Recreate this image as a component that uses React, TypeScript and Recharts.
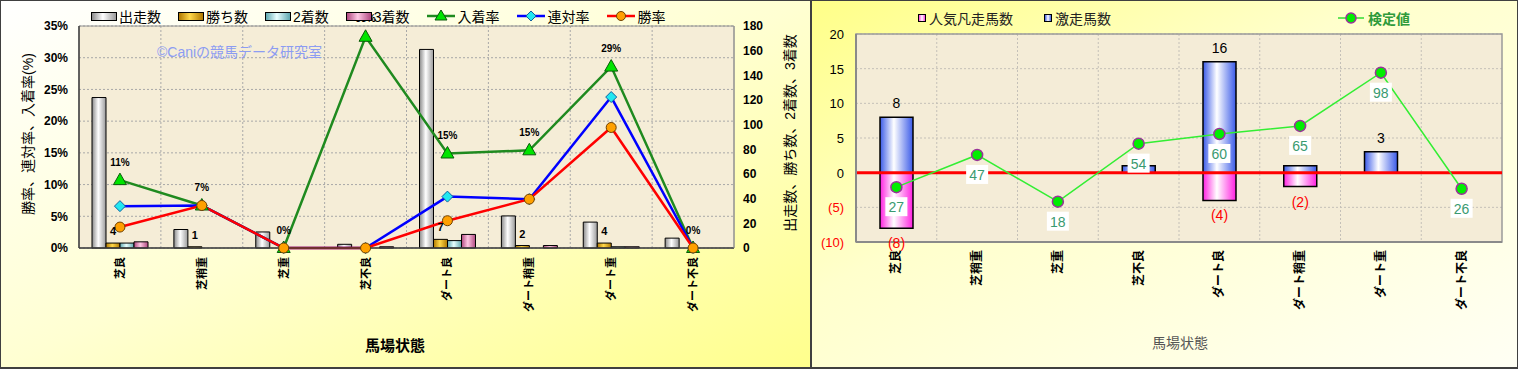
import {
  Bar,
  CartesianGrid,
  ComposedChart,
  Label,
  LabelList,
  Legend,
  Line,
  ReferenceArea,
  ReferenceLine,
  XAxis,
  YAxis,
} from "recharts";

const FONT = "'Liberation Sans','Noto Sans CJK JP',sans-serif";

// 馬場状態
const categories = ["芝良", "芝稍重", "芝重", "芝不良", "ダート良", "ダート稍重", "ダート重", "ダート不良"];

// left chart: counts (right axis)
const runners = [122, 15, 13, 3, 161, 26, 21, 8];
const wins = [4, 1, 0, 0, 7, 2, 4, 0];
const seconds = [4, 0, 0, 0, 6, 0, 1, 0];
const thirds = [5, 0, 0, 1, 11, 2, 1, 0];

// left chart: rates in % (left axis)
const showRate = [10.7, 6.7, 0, 33.3, 14.9, 15.4, 28.6, 0];
const placeRate = [6.6, 6.7, 0, 0, 8.1, 7.7, 23.8, 0];
const winRate = [3.3, 6.7, 0, 0, 4.3, 7.7, 19.0, 0];

const pctTicks = [0, 5, 10, 15, 20, 25, 30, 35];
const countTicks = [0, 20, 40, 60, 80, 100, 120, 140, 160, 180];

// right chart
const popularFlops = [-8, 0, 0, 0, -4, -2, 0, 0];
const surges = [8, 0, 0, 1, 16, 1, 3, 0];
const testValues = [27, 47, 18, 54, 60, 65, 98, 26];
const diffTicks = [-10, -5, 0, 5, 10, 15, 20];

const leftData = categories.map((name, i) => ({
  name,
  runners: runners[i],
  wins: wins[i],
  seconds: seconds[i],
  thirds: thirds[i],
  show: showRate[i],
  place: placeRate[i],
  win: winRate[i],
}));

const rightData = categories.map((name, i) => ({
  name,
  flop: popularFlops[i],
  surge: surges[i],
  test: testValues[i],
}));

const boundaries = (count: number) => ({ offset }: any) =>
  Array.from({ length: count - 1 }, (_, i) => offset.left + ((i + 1) * offset.width) / count);

function VerticalTick({ x, y, payload, size }: any) {
  return (
    <text
      x={x}
      y={y}
      transform={`rotate(-90, ${x}, ${y})`}
      textAnchor="end"
      dominantBaseline="central"
      fontSize={size}
      fontWeight="bold"
      fill="#000"
      fontFamily={FONT}
    >
      {payload.value}
    </text>
  );
}

function DiffTick({ x, y, payload }: any) {
  const v = payload.value;
  return (
    <text x={x} y={y} dy={5} textAnchor="end" fontSize={13} fill={v < 0 ? "#ff0000" : "#000"} fontFamily={FONT}>
      {v < 0 ? `(${-v})` : v}
    </text>
  );
}

function TriangleDot(p: any) {
  const { cx, cy, index } = p;
  if (cx == null) return null;
  return (
    <polygon
      key={`t${index}`}
      points={`${cx},${cy - 7} ${cx - 6.5},${cy + 4.5} ${cx + 6.5},${cy + 4.5}`}
      fill="#00e400"
      stroke="#0a5a0a"
      strokeWidth={1}
    />
  );
}

function DiamondDot(p: any) {
  const { cx, cy, index } = p;
  if (cx == null) return null;
  return (
    <polygon
      key={`d${index}`}
      points={`${cx},${cy - 5.5} ${cx + 5.5},${cy} ${cx},${cy + 5.5} ${cx - 5.5},${cy}`}
      fill="#22e8f0"
      stroke="#1060a0"
      strokeWidth={1}
    />
  );
}

function CircleDot(p: any) {
  const { cx, cy, index } = p;
  if (cx == null) return null;
  return <circle key={`c${index}`} cx={cx} cy={cy} r={5} fill="#ffa000" stroke="#704000" strokeWidth={1} />;
}

function TestDot(p: any) {
  const { cx, cy, index } = p;
  if (cx == null) return null;
  return <circle key={`g${index}`} cx={cx} cy={cy} r={5.5} fill="#00ee00" stroke="#993399" strokeWidth={1.5} />;
}

const leftLegendItems = [
  { label: "出走数", bar: "linear-gradient(to right,#8a8a8a,#ffffff 45%,#9a9a9a)" },
  { label: "勝ち数", bar: "linear-gradient(to right,#b07800,#ffd84a 45%,#b07800)" },
  { label: "2着数", bar: "linear-gradient(to right,#5fa8b0,#e8ffff 45%,#5fa8b0)" },
  { label: "3着数", bar: "linear-gradient(to right,#b04880,#ffc8e4 45%,#b04880)" },
  { label: "入着率", line: "#1f8a1f", dot: "tri" },
  { label: "連対率", line: "#0000ff", dot: "dia" },
  { label: "勝率", line: "#ff0000", dot: "cir" },
];

function LeftLegend() {
  return (
    <div style={{ display: "flex", alignItems: "center", fontFamily: FONT, fontSize: 14, color: "#000" }}>
      {leftLegendItems.map((it) => (
        <div key={it.label} style={{ display: "flex", alignItems: "center", marginRight: 17 }}>
          {it.bar ? (
            <span
              style={{
                display: "inline-block",
                width: 24,
                height: 7,
                background: it.bar,
                border: "1px solid #000",
                marginRight: 2,
              }}
            />
          ) : (
            <svg width={28} height={14} style={{ marginRight: 3 }}>
              <line x1={0} y1={7} x2={28} y2={7} stroke={it.line} strokeWidth={2.5} />
              {it.dot === "tri" && <polygon points="14,1 8,11 20,11" fill="#00e400" stroke="#0a5a0a" />}
              {it.dot === "dia" && <polygon points="14,2 19,7 14,12 9,7" fill="#22e8f0" stroke="#1060a0" />}
              {it.dot === "cir" && <circle cx={14} cy={7} r={4.5} fill="#ffa000" stroke="#704000" />}
            </svg>
          )}
          <span>{it.label}</span>
        </div>
      ))}
    </div>
  );
}

function RightLegend() {
  const sq = (bg: string) => (
    <span
      style={{ display: "inline-block", width: 6, height: 6, background: bg, border: "1px solid #000", marginRight: 3 }}
    />
  );
  return (
    <div style={{ position: "relative", width: 620, height: 20, fontFamily: FONT, fontSize: 14, color: "#222" }}>
      <div style={{ position: "absolute", left: 0, top: 0, display: "flex", alignItems: "center" }}>
        {sq("linear-gradient(to right,#ff40e0,#fff,#ff40e0)")}
        <span>人気凡走馬数</span>
      </div>
      <div style={{ position: "absolute", left: 126, top: 0, display: "flex", alignItems: "center" }}>
        {sq("linear-gradient(to right,#4060e8,#fff,#4060e8)")}
        <span>激走馬数</span>
      </div>
      <div style={{ position: "absolute", left: 420, top: 0, display: "flex", alignItems: "center" }}>
        <svg width={26} height={14} style={{ marginRight: 4 }}>
          <line x1={0} y1={7} x2={26} y2={7} stroke="#33dd33" strokeWidth={1.5} />
          <circle cx={13} cy={7} r={5} fill="#00ee00" stroke="#993399" strokeWidth={1.5} />
        </svg>
        <span style={{ color: "#2e9a3a", fontWeight: "bold" }}>検定値</span>
      </div>
    </div>
  );
}

function RotTitle({ x, y, text, size }: { x: number; y: number; text: string; size: number }) {
  return (
    <text
      x={x}
      y={y}
      transform={`rotate(-90, ${x}, ${y})`}
      textAnchor="middle"
      dominantBaseline="central"
      fontSize={size}
      fill="#000"
      fontFamily={FONT}
    >
      {text}
    </text>
  );
}

function LeftChart() {
  return (
    <ComposedChart
      width={810}
      height={368}
      data={leftData}
      margin={{ top: 26, right: 0, bottom: 0, left: 0 }}
      barGap={0}
      barCategoryGap={12}
    >
      <defs>
        <linearGradient id="gRun" x1="0" y1="0" x2="1" y2="0">
          <stop offset="0%" stopColor="#8a8a8a" />
          <stop offset="45%" stopColor="#ffffff" />
          <stop offset="100%" stopColor="#9a9a9a" />
        </linearGradient>
        <linearGradient id="gWin" x1="0" y1="0" x2="1" y2="0">
          <stop offset="0%" stopColor="#b07800" />
          <stop offset="45%" stopColor="#ffd84a" />
          <stop offset="100%" stopColor="#b07800" />
        </linearGradient>
        <linearGradient id="gSec" x1="0" y1="0" x2="1" y2="0">
          <stop offset="0%" stopColor="#5fa8b0" />
          <stop offset="45%" stopColor="#e8ffff" />
          <stop offset="100%" stopColor="#5fa8b0" />
        </linearGradient>
        <linearGradient id="gThi" x1="0" y1="0" x2="1" y2="0">
          <stop offset="0%" stopColor="#b04880" />
          <stop offset="45%" stopColor="#ffc8e4" />
          <stop offset="100%" stopColor="#b04880" />
        </linearGradient>
      </defs>
      <CartesianGrid
        yAxisId="pct"
        fill="#f5edd7"
        stroke="#a8a8a8"
        strokeDasharray="2 2"
        verticalCoordinatesGenerator={boundaries(categories.length)}
      />
      <XAxis
        dataKey="name"
        height={120}
        interval={0}
        axisLine={{ stroke: "#404040", strokeWidth: 1.5 }}
        tickLine={false}
        tickSize={0}
        tickMargin={9}
        tick={<VerticalTick size={11} />}
      >
        <Label
          content={() => (
            <text x={395} y={345} textAnchor="middle" dominantBaseline="central" fontSize={15} fontWeight="bold" fontFamily={FONT}>
              馬場状態
            </text>
          )}
        />
      </XAxis>
      <YAxis
        yAxisId="pct"
        width={79}
        domain={[0, 35]}
        ticks={pctTicks}
        tickFormatter={(v) => `${v}%`}
        axisLine={{ stroke: "#404040", strokeWidth: 1.5 }}
        tickLine={false}
        tickSize={0}
        tickMargin={11}
        tick={{ fontSize: 12, fontWeight: "bold", fill: "#000", fontFamily: FONT }}
      >
        <Label content={() => <RotTitle x={28} y={134} text="勝率、連対率、入着率(%)" size={14} />} />
      </YAxis>
      <YAxis
        yAxisId="count"
        orientation="right"
        width={76}
        domain={[0, 180]}
        ticks={countTicks}
        axisLine={{ stroke: "#909090", strokeWidth: 1 }}
        tickLine={false}
        tickSize={0}
        tickMargin={9}
        tick={{ fontSize: 12, fontWeight: "bold", fill: "#000", fontFamily: FONT, textAnchor: "start" }}
      >
        <Label content={() => <RotTitle x={790} y={133} text="出走数、勝ち数、2着数、3着数" size={14} />} />
      </YAxis>
      <ReferenceArea yAxisId="pct" y1={0} y2={35} fill="none" stroke="#909090" strokeWidth={1} />
      <Bar yAxisId="count" dataKey="runners" barSize={14} fill="url(#gRun)" stroke="#000" strokeWidth={1} isAnimationActive={false} />
      <Bar yAxisId="count" dataKey="wins" barSize={14} fill="url(#gWin)" stroke="#000" strokeWidth={1} isAnimationActive={false}>
        <LabelList
          dataKey="wins"
          content={(p: any) =>
            Number(p.value) > 0 ? (
              <text
                x={p.x + p.width / 2}
                y={p.y - 12}
                textAnchor="middle"
                dominantBaseline="central"
                fontSize={11}
                fontWeight="bold"
                fontFamily={FONT}
              >
                {p.value}
              </text>
            ) : null
          }
        />
      </Bar>
      <Bar yAxisId="count" dataKey="seconds" barSize={14} fill="url(#gSec)" stroke="#000" strokeWidth={1} isAnimationActive={false} />
      <Bar yAxisId="count" dataKey="thirds" barSize={14} fill="url(#gThi)" stroke="#000" strokeWidth={1} isAnimationActive={false} />
      <Line
        yAxisId="pct"
        dataKey="show"
        stroke="#1f8a1f"
        strokeWidth={2.5}
        dot={TriangleDot}
        activeDot={false}
        isAnimationActive={false}
      >
        <LabelList
          dataKey="show"
          content={(p: any) => (
            <text
              x={p.x}
              y={p.y - 18}
              textAnchor="middle"
              dominantBaseline="central"
              fontSize={10}
              fontWeight="bold"
              fontFamily={FONT}
            >
              {`${Math.round(p.value)}%`}
            </text>
          )}
        />
      </Line>
      <Line
        yAxisId="pct"
        dataKey="place"
        stroke="#0000ff"
        strokeWidth={2.5}
        dot={DiamondDot}
        activeDot={false}
        isAnimationActive={false}
      />
      <Line
        yAxisId="pct"
        dataKey="win"
        stroke="#ff0000"
        strokeWidth={2.5}
        dot={CircleDot}
        activeDot={false}
        isAnimationActive={false}
      />
      <Legend
        layout="horizontal"
        verticalAlign="middle"
        align="center"
        content={LeftLegend}
        wrapperStyle={{ top: 6, left: 91, width: 700 }}
      />
    </ComposedChart>
  );
}

function RightChart() {
  return (
    <ComposedChart
      width={708}
      height={368}
      data={rightData}
      margin={{ top: 34, right: 16, bottom: 0, left: 0 }}
      stackOffset="sign"
    >
      <defs>
        <linearGradient id="gSurge" x1="0" y1="0" x2="1" y2="0">
          <stop offset="0%" stopColor="#3a5ae8" />
          <stop offset="42%" stopColor="#ffffff" />
          <stop offset="100%" stopColor="#3a5ae8" />
        </linearGradient>
        <linearGradient id="gFlop" x1="0" y1="0" x2="1" y2="0">
          <stop offset="0%" stopColor="#ff20e0" />
          <stop offset="42%" stopColor="#ffffff" />
          <stop offset="100%" stopColor="#ff20e0" />
        </linearGradient>
      </defs>
      <CartesianGrid
        yAxisId="diff"
        fill="#f4ecd7"
        stroke="#c4c0b8"
        strokeDasharray="2 2"
        verticalCoordinatesGenerator={boundaries(categories.length)}
      />
      <XAxis
        dataKey="name"
        height={126}
        interval={0}
        axisLine={{ stroke: "#8a8a8a", strokeWidth: 2 }}
        tickLine={false}
        tickSize={0}
        tickMargin={8}
        tick={<VerticalTick size={12} />}
      >
        <Label
          content={() => (
            <text x={370} y={343} textAnchor="middle" dominantBaseline="central" fontSize={14} fill="#555" fontFamily={FONT}>
              馬場状態
            </text>
          )}
        />
      </XAxis>
      <YAxis
        yAxisId="diff"
        width={46}
        domain={[-10, 20]}
        ticks={diffTicks}
        axisLine={{ stroke: "#8a8a8a", strokeWidth: 2 }}
        tickLine={false}
        tickSize={0}
        tickMargin={12}
        tick={<DiffTick />}
      />
      <YAxis yAxisId="test" orientation="right" hide width={0} domain={[-7, 122]} />
      <ReferenceArea yAxisId="diff" y1={-10} y2={20} fill="none" stroke="#9a9a9a" strokeWidth={1.5} />
      <Bar yAxisId="diff" dataKey="flop" stackId="s" barSize={33} fill="url(#gFlop)" stroke="#000" strokeWidth={1.5} isAnimationActive={false}>
        <LabelList
          dataKey="flop"
          content={(p: any) => {
            const v = Number(p.value);
            if (!(v < 0)) return null;
            const bottom = Math.max(p.y, p.y + p.height);
            return (
              <text
                x={p.x + p.width / 2}
                y={bottom + 15}
                textAnchor="middle"
                dominantBaseline="central"
                fontSize={14}
                fill="#ff0000"
                fontFamily={FONT}
              >
                {`(${-v})`}
              </text>
            );
          }}
        />
      </Bar>
      <Bar yAxisId="diff" dataKey="surge" stackId="s" barSize={33} fill="url(#gSurge)" stroke="#000" strokeWidth={1.5} isAnimationActive={false}>
        <LabelList
          dataKey="surge"
          content={(p: any) => {
            const v = Number(p.value);
            // labels of the 1-horse bars sit hidden under the 検定値 boxes in the original
            if (!(v > 1)) return null;
            const top = Math.min(p.y, p.y + p.height);
            return (
              <text
                x={p.x + p.width / 2}
                y={top - 14}
                textAnchor="middle"
                dominantBaseline="central"
                fontSize={14}
                fill="#000"
                fontFamily={FONT}
              >
                {v}
              </text>
            );
          }}
        />
      </Bar>
      <ReferenceLine yAxisId="diff" y={0} stroke="#ff0000" strokeWidth={3} />
      <Line
        yAxisId="test"
        dataKey="test"
        stroke="#33ee33"
        strokeWidth={1.5}
        dot={TestDot}
        activeDot={false}
        isAnimationActive={false}
      >
        <LabelList
          dataKey="test"
          content={(p: any) => (
            <g>
              <rect x={p.x - 11} y={p.y + 10} width={22} height={19} fill="#ffffff" />
              <text
                x={p.x}
                y={p.y + 20}
                textAnchor="middle"
                dominantBaseline="central"
                fontSize={14}
                fill="#3a9a70"
                fontFamily={FONT}
              >
                {p.value}
              </text>
            </g>
          )}
        />
      </Line>
      <Legend
        layout="horizontal"
        verticalAlign="middle"
        align="center"
        content={RightLegend}
        wrapperStyle={{ top: 8, left: 108, width: 620 }}
      />
    </ComposedChart>
  );
}

export default function App() {
  return (
    <div style={{ position: "relative", width: 1518, height: 369, overflow: "hidden" }}>
      <style>{"body{margin:0}"}</style>
      <div
        style={{
          position: "absolute",
          left: 0,
          top: 0,
          width: 811,
          height: 369,
          boxSizing: "border-box",
          border: "1px solid #404040",
          borderBottomWidth: 2,
          background: "linear-gradient(to bottom right, #ffffff 0%, #ffffd2 50%, #ffff8c 100%)",
        }}
      />
      <div
        style={{
          position: "absolute",
          left: 810,
          top: 0,
          width: 708,
          height: 369,
          boxSizing: "border-box",
          border: "1px solid #404040",
          borderLeftWidth: 2,
          borderBottomWidth: 2,
          background: "linear-gradient(to bottom right, #ffff88 0%, #ffffcc 40%, #fffff4 100%)",
        }}
      />
      <div style={{ position: "absolute", left: 0, top: 0 }}>
        <LeftChart />
      </div>
      <div
        style={{
          position: "absolute",
          left: 157,
          top: 41,
          fontFamily: FONT,
          fontSize: 14,
          color: "#8c9cf2",
          whiteSpace: "nowrap",
        }}
      >
        ©Caniの競馬データ研究室
      </div>
      <div style={{ position: "absolute", left: 810, top: 0 }}>
        <RightChart />
      </div>
    </div>
  );
}
